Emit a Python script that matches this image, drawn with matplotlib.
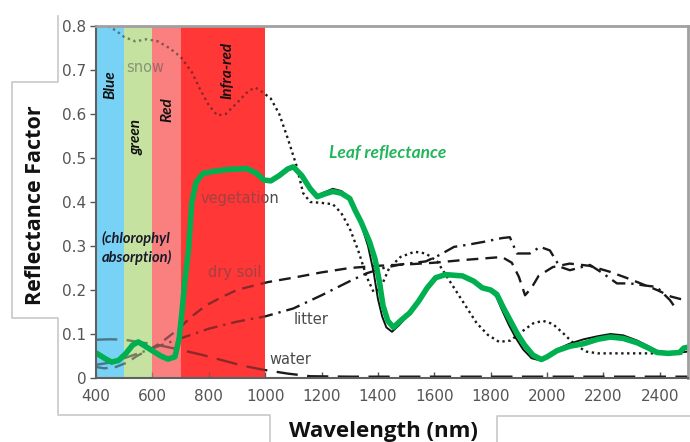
import matplotlib
matplotlib.use("Agg")
import matplotlib.pyplot as plt
from matplotlib.lines import Line2D

# ---------------- data ----------------
snow_wl = [400, 440, 470, 500, 540, 580, 620, 660, 700, 740, 770, 800, 830, 860, 900, 940, 965, 990,
           1020, 1050, 1080, 1110, 1135, 1160, 1200, 1240, 1270, 1300, 1330, 1360, 1385, 1410, 1440,
           1480, 1530, 1570, 1610, 1640, 1670, 1710, 1750, 1790, 1830, 1870, 1910, 1950, 1985, 2020,
           2060, 2100, 2140, 2180, 2300, 2480]
snow_r = [0.80, 0.80, 0.79, 0.775, 0.765, 0.77, 0.765, 0.75, 0.73, 0.695, 0.655, 0.62, 0.597, 0.60,
          0.625, 0.652, 0.66, 0.65, 0.635, 0.60, 0.545, 0.485, 0.42, 0.40, 0.398, 0.395, 0.375, 0.34,
          0.29, 0.23, 0.195, 0.205, 0.25, 0.275, 0.287, 0.283, 0.265, 0.235, 0.205, 0.165, 0.125,
          0.098, 0.082, 0.085, 0.105, 0.124, 0.13, 0.123, 0.10, 0.075, 0.06, 0.056, 0.056, 0.056]

leaf_wl = [400, 430, 455, 480, 505, 530, 550, 575, 600, 630, 655, 680, 695, 705, 715, 728, 740, 755,
           780, 820, 870, 935, 970, 995, 1020, 1050, 1080, 1100, 1130, 1160, 1185, 1210, 1240, 1270,
           1300, 1320, 1340, 1370, 1390, 1405, 1418, 1435, 1455, 1480, 1513, 1545, 1575, 1605, 1640,
           1700, 1740, 1770, 1800, 1822, 1845, 1870, 1895, 1920, 1950, 1980, 2000, 2035, 2080, 2130,
           2180, 2225, 2270, 2320, 2360, 2390, 2430, 2470, 2485, 2500]
leaf_r = [0.057, 0.045, 0.036, 0.04, 0.055, 0.075, 0.082, 0.072, 0.062, 0.05, 0.043, 0.048, 0.09,
          0.15, 0.22, 0.29, 0.40, 0.445, 0.465, 0.47, 0.474, 0.476, 0.465, 0.45, 0.448, 0.46, 0.475,
          0.48, 0.46, 0.43, 0.412, 0.418, 0.424, 0.42, 0.408, 0.38, 0.355, 0.31, 0.27, 0.22, 0.165,
          0.13, 0.115, 0.13, 0.148, 0.175, 0.205, 0.228, 0.235, 0.232, 0.22, 0.205, 0.20, 0.19, 0.16,
          0.13, 0.10, 0.075, 0.052, 0.042, 0.048, 0.062, 0.072, 0.078, 0.088, 0.093, 0.09, 0.08,
          0.068, 0.058, 0.056, 0.058, 0.068, 0.07]

veg_wl = [400, 430, 455, 480, 505, 530, 550, 575, 600, 630, 655, 680, 695, 705, 715, 728, 740, 755,
          780, 820, 870, 935, 970, 995, 1020, 1050, 1080, 1100, 1130, 1160, 1185, 1210, 1240, 1270,
          1300, 1320, 1340, 1365, 1385, 1400, 1415, 1430, 1450, 1475, 1510, 1545, 1575, 1605, 1640,
          1700, 1740, 1770, 1800, 1820, 1840, 1865, 1890, 1915, 1945, 1975, 2000, 2035, 2080, 2130,
          2180, 2225, 2270, 2320, 2360, 2390, 2430, 2470, 2500]
veg_r = [0.057, 0.045, 0.036, 0.04, 0.055, 0.075, 0.082, 0.072, 0.062, 0.05, 0.043, 0.048, 0.09,
         0.15, 0.22, 0.29, 0.40, 0.445, 0.465, 0.47, 0.474, 0.476, 0.465, 0.45, 0.448, 0.46, 0.475,
         0.48, 0.46, 0.43, 0.415, 0.422, 0.43, 0.425, 0.41, 0.385, 0.35, 0.30, 0.24, 0.18, 0.14,
         0.115, 0.105, 0.12, 0.145, 0.175, 0.205, 0.228, 0.235, 0.232, 0.22, 0.205, 0.198, 0.185,
         0.155, 0.12, 0.09, 0.065, 0.045, 0.04, 0.05, 0.065, 0.078, 0.088, 0.095, 0.10, 0.097, 0.085,
         0.072, 0.062, 0.058, 0.058, 0.06]

water_wl = [400, 450, 500, 560, 620, 700, 780, 850, 920, 1000, 1080, 1160, 1300, 2500]
water_r = [0.087, 0.088, 0.087, 0.081, 0.075, 0.064, 0.052, 0.04, 0.028, 0.018, 0.01, 0.004, 0.003,
           0.003]

soil_wl = [400, 430, 470, 510, 545, 590, 630, 690, 740, 790, 850, 900, 960, 1010, 1100, 1200, 1300,
           1400, 1500, 1600, 1700, 1780, 1840, 1875, 1900, 1922, 1945, 1970, 2020, 2080, 2150, 2220,
           2280, 2320, 2390, 2440, 2500]
soil_r = [0.025, 0.022, 0.025, 0.035, 0.05, 0.065, 0.08, 0.11, 0.14, 0.165, 0.185, 0.20, 0.21, 0.218,
          0.228, 0.24, 0.25, 0.255, 0.258, 0.262, 0.268, 0.272, 0.275, 0.262, 0.23, 0.188, 0.205,
          0.232, 0.252, 0.26, 0.255, 0.242, 0.228, 0.218, 0.20, 0.185, 0.175]

litter_wl = [400, 450, 500, 560, 620, 700, 800, 900, 1000, 1100, 1200, 1300, 1360, 1420, 1480, 1570,
             1620, 1670, 1720, 1780, 1840, 1868, 1893, 1939, 1975, 2010, 2045, 2081, 2152, 2198, 2248,
             2294, 2350, 2389, 2436, 2460]
litter_r = [0.03, 0.035, 0.045, 0.058, 0.072, 0.09, 0.112, 0.128, 0.14, 0.158, 0.188, 0.22, 0.238,
            0.25, 0.258, 0.265, 0.28, 0.298, 0.303, 0.31, 0.318, 0.32, 0.283, 0.283, 0.298, 0.29,
            0.253, 0.245, 0.257, 0.238, 0.215, 0.215, 0.21, 0.207, 0.177, 0.155]

band_edges = [400, 500, 600, 700, 1000]
band_colors = ["#78D2F5", "#C5E2A0", "#FA8080", "#FF3737"]
band_labels = ["Blue", "green", "Red", "Infra-red"]

x_ticks = [400, 600, 800, 1000, 1200, 1400, 1600, 1800, 2000, 2200, 2400]
y_ticks = [0, 0.1, 0.2, 0.3, 0.4, 0.5, 0.6, 0.7, 0.8]
y_ticklabels = ["0", "0.1", "0.2", "0.3", "0.4", "0.5", "0.6", "0.7", "0.8"]

# ---------------- figure ----------------
W, H = 690, 442
fig = plt.figure(figsize=(W / 100, H / 100), dpi=100)
ax = fig.add_axes([96 / W, 1 - 378 / H, (688 - 96) / W, (378 - 26) / H])
ax.set_xlim(400, 2500)
ax.set_ylim(0, 0.8)

# base bands
for i in range(4):
    ax.axvspan(band_edges[i], band_edges[i + 1], color=band_colors[i], lw=0, zorder=0)

lc = "#1a1a1a"
ax.plot(snow_wl, snow_r, color=lc, lw=1.7, ls=(0, (1, 1.5)), zorder=2)
ax.plot(veg_wl, veg_r, color="#111111", lw=1.4, zorder=2)
ax.plot(water_wl, water_r, color=lc, lw=1.7, ls=(0, (9, 4)), zorder=2)
ax.plot(soil_wl, soil_r, color=lc, lw=1.7, ls=(0, (5, 3)), zorder=2)
ax.plot(litter_wl, litter_r, color=lc, lw=1.7, ls=(0, (6, 2.5, 1, 2.5)), zorder=2)

tc = "#4a4a4a"
tf = dict(family="DejaVu Sans", fontsize=10.5, color=tc, ha="center", va="center", zorder=2)
ax.text(574, 0.705, "snow", **tf)
ax.text(911, 0.407, "vegetation", **tf)
ax.text(893, 0.239, "dry soil", **tf)
ax.text(1162, 0.132, "litter", **tf)
ax.text(1091, 0.041, "water", **tf)

# overlay bands (tint what is below)
for i in range(4):
    ax.axvspan(band_edges[i], band_edges[i + 1], color=band_colors[i], alpha=0.5, lw=0, zorder=3)

# leaf reflectance
ax.plot(leaf_wl, leaf_r, color="#00B050", lw=4.0, solid_capstyle="round", zorder=5)

bf = dict(family="Lato", fontsize=11, fontweight="bold", fontstyle="italic", color="#111111",
          rotation=90, ha="center", va="center", zorder=6)
ax.text(450, 0.666, band_labels[0], **bf)
ax.text(545, 0.548, band_labels[1], **bf)
ax.text(652, 0.61, band_labels[2], **bf)
ax.text(865, 0.70, band_labels[3], **bf)

cf = dict(family="Lato", fontsize=10.5, fontweight="bold", fontstyle="italic", color="#1a1a2a",
          ha="left", va="center", zorder=6)
ax.text(419, 0.318, "(chlorophyl", **cf)
ax.text(419, 0.273, "absorption)", **cf)

ax.text(1435, 0.511, "Leaf reflectance", family="Lato", fontsize=12.5, fontweight="bold",
        fontstyle="italic", color="#22B55A", ha="center", va="center", zorder=6)

# axes styling
ax.set_xticks(x_ticks)
ax.set_yticks(y_ticks)
ax.set_yticklabels(y_ticklabels)
ax.tick_params(axis="x", direction="in", length=4, width=1, color="#555555", labelsize=11,
               labelcolor="#555555", pad=8)
ax.tick_params(axis="y", direction="out", length=4, width=1, color="#555555", labelsize=11,
               labelcolor="#555555", pad=3)
for t in ax.get_xticklabels() + ax.get_yticklabels():
    t.set_family("DejaVu Sans")
for s in ["left", "bottom"]:
    ax.spines[s].set_color("#606060")
    ax.spines[s].set_linewidth(1.5)
for s in ["top", "right"]:
    ax.spines[s].set_color("#a0a0a0")
    ax.spines[s].set_linewidth(2)
for s in ax.spines.values():
    s.set_zorder(7)

# axis titles
fig.text(36 / W, 1 - 205 / H, "Reflectance Factor", family="Open Sans", fontsize=15.5,
         fontweight="bold", rotation=90, ha="center", va="center", color="#111111")
fig.text(383 / W, 1 - 421 / H, "Wavelength (nm)", family="Open Sans", fontsize=16,
         fontweight="bold", ha="center", va="top", color="#111111")

# gray frame lines from the composite image
def px_line(xs, ys):
    fig.add_artist(Line2D([x / W for x in xs], [1 - y / H for y in ys], transform=fig.transFigure,
                          color="#c8c8c8", lw=1.2))

px_line([58, 58, 12, 12, 58, 58, 270, 270], [16, 82, 82, 318, 318, 415, 415, 442])
px_line([497, 497, 690], [442, 416, 416])

fig.savefig("out.png", dpi=100)
